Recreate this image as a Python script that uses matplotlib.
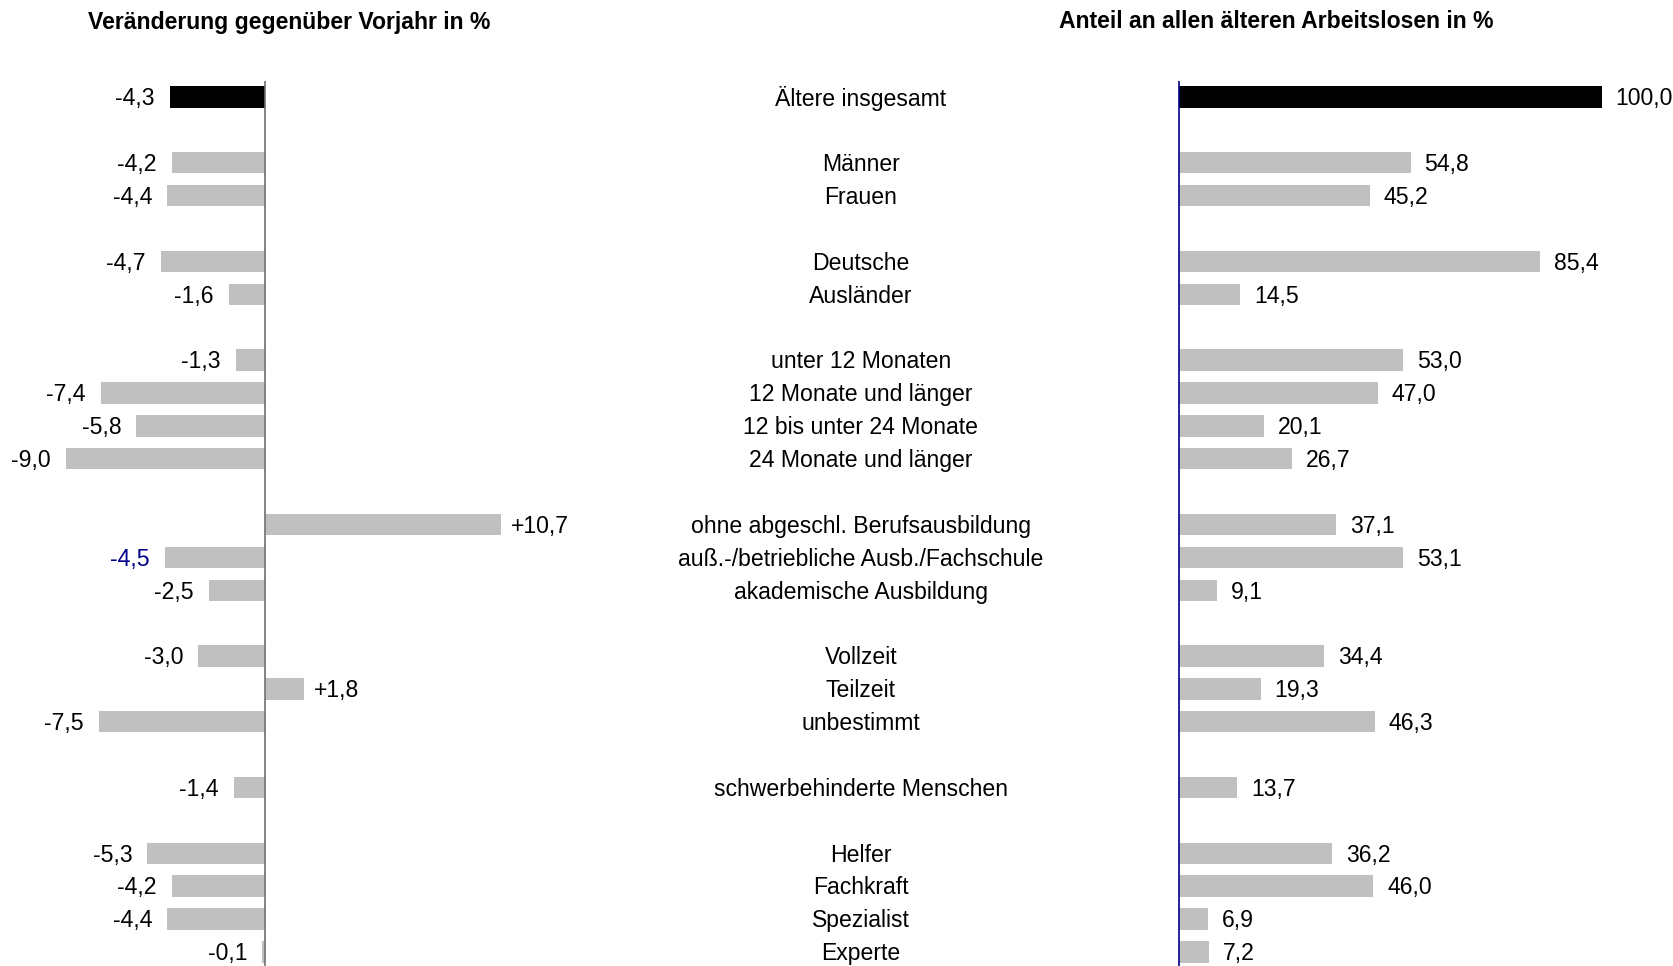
#!/usr/bin/env python3


# +
# import(s)
# -
import matplotlib as mpl
mpl.use('Agg')
import matplotlib.pyplot as plt
from matplotlib.transforms import blended_transform_factory, offset_copy


# +
# data
# -
categories = ['Ältere insgesamt',
              'Männer', 'Frauen',
              'Deutsche', 'Ausländer',
              'unter 12 Monaten', '12 Monate und länger', '12 bis unter 24 Monate', '24 Monate und länger',
              'ohne abgeschl. Berufsausbildung', 'auß.-/betriebliche Ausb./Fachschule', 'akademische Ausbildung',
              'Vollzeit', 'Teilzeit', 'unbestimmt',
              'schwerbehinderte Menschen',
              'Helfer', 'Fachkraft', 'Spezialist', 'Experte']
slots = [0, 2, 3, 5, 6, 8, 9, 10, 11, 13, 14, 15, 17, 18, 19, 21, 23, 24, 25, 26]
change = [-4.3, -4.2, -4.4, -4.7, -1.6, -1.3, -7.4, -5.8, -9.0,
          10.7, -4.5, -2.5, -3.0, 1.8, -7.5, -1.4, -5.3, -4.2, -4.4, -0.1]
share = [100.0, 54.8, 45.2, 85.4, 14.5, 53.0, 47.0, 20.1, 26.7,
         37.1, 53.1, 9.1, 34.4, 19.3, 46.3, 13.7, 36.2, 46.0, 6.9, 7.2]
title_left = 'Veränderung gegenüber Vorjahr in %'
title_right = 'Anteil an allen älteren Arbeitslosen in %'

GREY = '#c0c0c0'
NAVY = '#00008b'
plt.rcParams['font.family'] = ['Liberation Sans', 'DejaVu Sans']


def fmt(v, sign=False):
    s = f"{v:+.1f}" if sign else f"{v:.1f}"
    return s.replace('.', ',')


# +
# plot
# -
W, H = 1673, 966
fig = plt.figure(figsize=(W / 100, H / 100), dpi=100)
top = 1 - 80.6 / H

# left panel: zero at x=264.6px, 22.1 px/unit
ax1 = fig.add_axes([0, 0, 600 / W, top])
ax1.set_xlim(-264.6 / 22.1, (600 - 264.6) / 22.1)
# right panel: zero at x=1179px, 4.226 px/unit
ax2 = fig.add_axes([1100 / W, 0, 1 - 1100 / W, top])
ax2.set_xlim(-79 / 4.226, (573 - 79) / 4.226)

for ax in (ax1, ax2):
    ax.set_ylim(26.43, -0.5)
    ax.axis('off')

colors = ['black'] + [GREY] * (len(slots) - 1)
ax1.barh(slots, change, height=0.65, color=colors)
ax2.barh(slots, share, height=0.65, color=colors)
ax1.axvline(0, color='#707070', lw=1.2)
ax2.axvline(0, color=NAVY, lw=1.2)

fs = 16.6
dy = -1.3  # text sits a touch below bar centre
for i, (y, c, s) in enumerate(zip(slots, change, share)):
    col = NAVY if i == 10 else 'black'
    if c < 0:
        ax1.annotate(fmt(c), (c, y), xytext=(-11, dy), textcoords='offset points',
                     ha='right', va='center', fontsize=fs, color=col)
    else:
        ax1.annotate(fmt(c, True), (c, y), xytext=(7, dy), textcoords='offset points',
                     ha='left', va='center', fontsize=fs, color=col)
    ax2.annotate(fmt(s), (s, y), xytext=(10, dy), textcoords='offset points',
                 ha='left', va='center', fontsize=fs)

# category labels in the middle
trans = blended_transform_factory(fig.transFigure, ax1.transData)
trans = offset_copy(trans, fig=fig, y=dy, units='points')
for y, name in zip(slots, categories):
    fig.text(861 / W, y, name, transform=trans, ha='center', va='center', fontsize=fs)

# titles
fig.text(289 / W, 1 - 22 / H, title_left, ha='center', va='center', fontsize=fs, fontweight='bold')
fig.text(1276 / W, 1 - 22 / H, title_right, ha='center', va='center', fontsize=fs, fontweight='bold')

# output(s)
plt.savefig('out.png', dpi=100)
